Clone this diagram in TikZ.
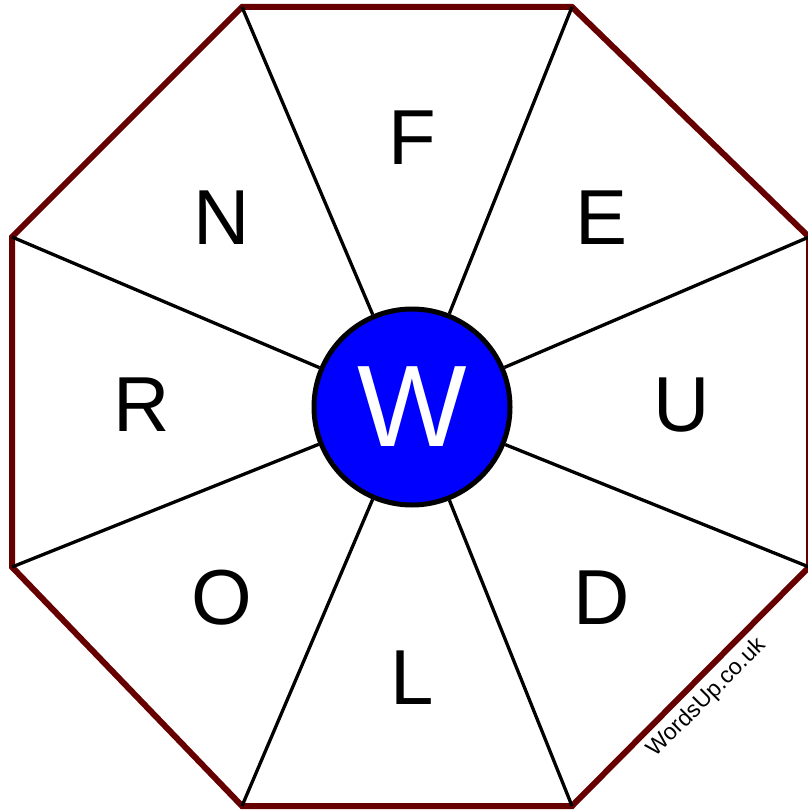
\documentclass[tikz,border=0pt]{standalone}
\usepackage{fontspec}
\setmainfont{Liberation Sans}
\usetikzlibrary{positioning}
\definecolor{rim}{HTML}{660000}
\definecolor{hub}{HTML}{0000FF}
\tikzset{
  letter/.style={font=\fontsize{78}{78}\selectfont, inner sep=0pt},
  hubnode/.style={circle, draw=black, line width=5pt, fill=hub, minimum size=196pt,
                  inner sep=0pt, text=white, font=\fontsize{116}{116}\selectfont},
  spoke/.style={draw=black, line width=3.3pt},
  rimline/.style={draw=rim, line width=6pt, line join=miter},
  mark text/.style={font=\fontsize{23}{23}\selectfont, rotate=45, inner sep=0pt},
}
\begin{document}
\begin{tikzpicture}[x=1pt, y=-1pt]
  \useasboundingbox (0,0) rectangle (807,810);
  % octagon corners
  \coordinate (v1) at (242,7);
  \coordinate (v2) at (572,7);
  \coordinate (v3) at (809,237);
  \coordinate (v4) at (809,567);
  \coordinate (v5) at (572,806);
  \coordinate (v6) at (242,806);
  \coordinate (v7) at (12,567);
  \coordinate (v8) at (12,237);
  \draw[rimline] (v1) -- (v2) -- (v3) -- (v4) -- (v5) -- (v6) -- (v7) -- (v8) -- cycle;
  % centre letter
  \node[hubnode] (w) at (412,407) {W};
  \foreach \v in {v1,v2,v3,v4,v5,v6,v7,v8}
    \draw[spoke] (w) -- (\v);
  % outer letters
  \node[letter] (f) at (412,138) {F};
  \node[letter] (e) at (602,218) {E};
  \node[letter] (u) at (682,405) {U};
  \node[letter] (d) at (602,598) {D};
  \node[letter] (l) at (412,678) {L};
  \node[letter] (o) at (222,598) {O};
  \node[letter] (r) at (142,405) {R};
  \node[letter] (n) at (222,218) {N};
  \node[mark text] (site) at (707,698) {WordsUp.co.uk};
\end{tikzpicture}
\end{document}
